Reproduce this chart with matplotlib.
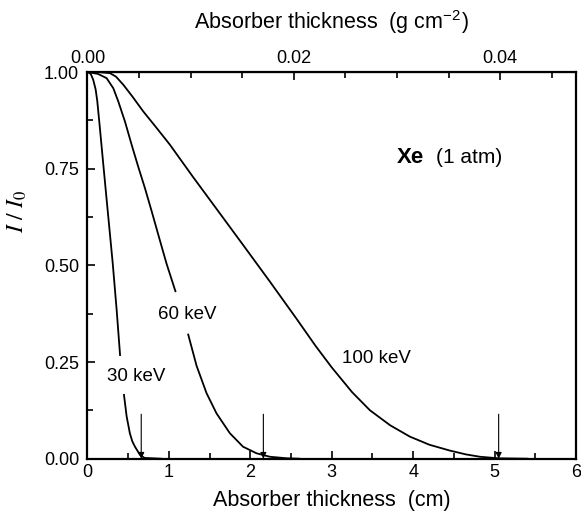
import numpy as np
import matplotlib.pyplot as plt
from matplotlib.ticker import MultipleLocator, FixedLocator

plt.rcParams["font.family"] = ["Liberation Sans", "DejaVu Sans"]
plt.rcParams["mathtext.fontset"] = "stix"

# transmission curves (nan = gap left for the label)
t30 = [0.0, 0.04, 0.07, 0.10, 0.12, 0.15, 0.19, 0.235, 0.276, 0.31, 0.358, 0.40, np.nan,
       0.448, 0.481, 0.52, 0.55, 0.583, 0.644, 0.70, 0.90]
i30 = [1.0, 0.995, 0.98, 0.955, 0.925, 0.86, 0.77, 0.67, 0.58, 0.505, 0.385, 0.268, np.nan,
       0.165, 0.109, 0.066, 0.045, 0.031, 0.010, 0.002, 0.0]

t60 = [0.0, 0.13, 0.235, 0.317, 0.378, 0.46, 0.542, 0.623, 0.705, 0.788, 0.89, 0.97, 1.08, np.nan,
       1.237, 1.34, 1.463, 1.585, 1.748, 1.91, 2.076, 2.24, 2.45, 2.6]
i60 = [1.0, 0.995, 0.984, 0.958, 0.924, 0.872, 0.812, 0.755, 0.70, 0.64, 0.564, 0.505, 0.433, np.nan,
       0.321, 0.240, 0.169, 0.117, 0.066, 0.031, 0.014, 0.005, 0.001, 0.0]

t100 = [0.0, 0.15, 0.276, 0.35, 0.44, 0.55, 0.685, 0.85, 1.012, 1.298, 1.585, 1.91, 2.24, 2.567,
        2.80, 3.0, 3.25, 3.47, 3.72, 3.96, 4.2, 4.45, 4.65, 4.82, 5.05, 5.4]
i100 = [1.0, 0.9995, 0.997, 0.988, 0.967, 0.937, 0.898, 0.855, 0.812, 0.728, 0.646, 0.553, 0.458, 0.362,
        0.292, 0.236, 0.172, 0.125, 0.086, 0.057, 0.036, 0.021, 0.011, 0.005, 0.001, 0.0]

labels = ["30 keV", "60 keV", "100 keV"]
label_pos = [(0.235, 0.212), (0.87, 0.372), (3.12, 0.26)]
arrow_x = [0.66, 2.16, 5.05]

rho = 0.04 / 5.07  # g cm^-2 per cm, from the two axes

fig = plt.figure(figsize=(5.81, 5.21), dpi=100)
ax = fig.add_axes([0.1506, 0.1196, 0.8408, 0.7422])

for t, i in [(t30, i30), (t60, i60), (t100, i100)]:
    ax.plot(t, i, color="black", lw=1.3)

for lab, (x, y) in zip(labels, label_pos):
    ax.text(x, y, lab, fontsize=13.5, ha="left", va="center")

for x in arrow_x:
    ax.annotate("", xy=(x, 0.0), xytext=(x, 0.115),
                arrowprops=dict(arrowstyle="-|>", color="black", lw=0.8,
                                mutation_scale=9, shrinkA=0, shrinkB=0))

ax.text(3.80, 0.78, "Xe", fontsize=16, fontweight="bold", ha="left", va="center")
ax.text(4.28, 0.78, "(1 atm)", fontsize=15, ha="left", va="center")

ax.set_xlim(0, 6)
ax.set_ylim(0, 1)
ax.xaxis.set_major_locator(MultipleLocator(1))
ax.xaxis.set_minor_locator(MultipleLocator(0.5))
ax.yaxis.set_major_locator(MultipleLocator(0.25))
ax.yaxis.set_minor_locator(MultipleLocator(0.125))
ax.yaxis.set_major_formatter(plt.FormatStrFormatter("%.2f"))
ax.tick_params(which="both", direction="in", labelsize=13, width=1.2)
ax.tick_params(axis="y", pad=6)
ax.tick_params(which="major", length=6)
ax.tick_params(which="minor", length=4)
for s in ax.spines.values():
    s.set_linewidth(1.6)

ax.set_xlabel("Absorber thickness  (cm)", fontsize=15.5, labelpad=7)
ax.set_ylabel(r"$I\ /\ I_0$", fontsize=17)
ax.yaxis.set_label_coords(-0.12, 0.64)

top = ax.secondary_xaxis("top", functions=(lambda x: x * rho, lambda g: g / rho))
top.xaxis.set_major_locator(FixedLocator([0.0, 0.02, 0.04]))
top.xaxis.set_minor_locator(MultipleLocator(0.005))
top.xaxis.set_major_formatter(plt.FormatStrFormatter("%.2f"))
top.tick_params(which="both", direction="in", labelsize=13, width=1.2)
top.tick_params(which="major", length=6)
top.tick_params(which="minor", length=4)
top.set_xlabel(r"Absorber thickness  (g cm$^{\mathregular{-2}}$)", fontsize=15.5, labelpad=15)

fig.savefig("out.png", dpi=100)
